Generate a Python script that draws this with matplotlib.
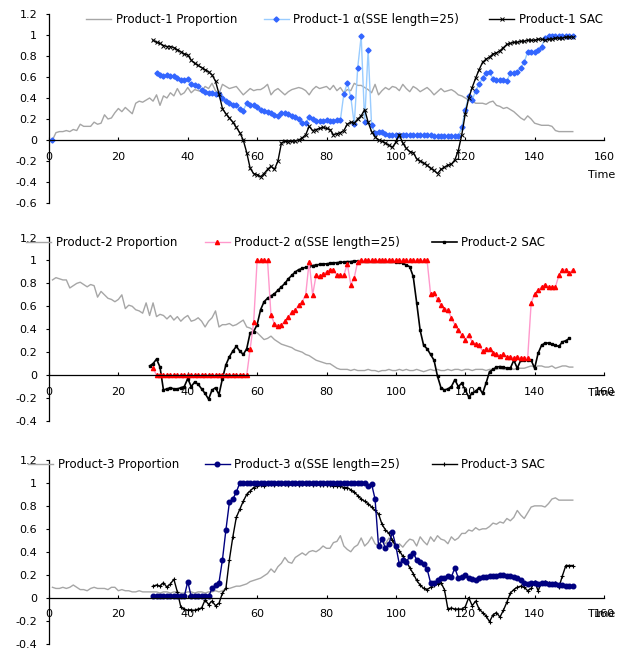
import numpy as np
import matplotlib
matplotlib.use('Agg')
import matplotlib.pyplot as plt
from matplotlib.legend import Legend
from matplotlib.ticker import FuncFormatter

plt.rcParams['font.family'] = ['DejaVu Sans']
plt.rcParams['font.size'] = 8
plt.rcParams['axes.unicode_minus'] = False

nan = np.nan

# ---------------- Product-1 ----------------
p1_prop_start = 1
p1_prop = [0.00, 0.07, 0.08, 0.08, 0.09, 0.08, 0.10, 0.09, 0.15, 0.13,
           0.13, 0.13, 0.17, 0.15, 0.16, 0.24, 0.20, 0.21, 0.26, 0.30,
           0.27, 0.31, 0.28, 0.25, 0.35, 0.37, 0.36, 0.38, 0.40, 0.37,
           0.43, 0.33, 0.42, 0.40, 0.45, 0.42, 0.49, 0.43, 0.45, 0.50,
           0.45, 0.48, 0.47, 0.46, 0.51, 0.49, 0.54, 0.47, 0.44, 0.53,
           0.51, 0.49, 0.50, 0.51, 0.47, 0.43, 0.46, 0.49, 0.47, 0.48,
           0.48, 0.50, 0.53, 0.43, 0.47, 0.49, 0.46, 0.43, 0.46, 0.48,
           0.49, 0.50, 0.49, 0.47, 0.43, 0.48, 0.51, 0.49, 0.50, 0.51,
           0.48, 0.52, 0.47, 0.50, 0.45, 0.48, 0.47, 0.54, 0.52, 0.52,
           0.50, 0.48, 0.45, 0.53, 0.43, 0.47, 0.50, 0.48, 0.51, 0.50,
           0.47, 0.53, 0.49, 0.46, 0.51, 0.49, 0.46, 0.48, 0.50, 0.47,
           0.43, 0.46, 0.49, 0.46, 0.47, 0.48, 0.46, 0.43, 0.42, 0.40,
           0.38, 0.37, 0.35, 0.35, 0.35, 0.34, 0.36, 0.37, 0.33, 0.32,
           0.30, 0.31, 0.29, 0.27, 0.24, 0.21, 0.19, 0.23, 0.20, 0.16,
           0.15, 0.14, 0.14, 0.14, 0.13, 0.09, 0.08, 0.08, 0.08, 0.08,
           0.08]

p1_alpha_start = 1
p1_alpha = [0.00] + [nan] * 29 + [
            0.64, 0.62, 0.61, 0.62, 0.61, 0.61, 0.59, 0.57, 0.57, 0.58,
            0.53, 0.52, 0.51, 0.48, 0.46, 0.45, 0.45, 0.44, 0.44, 0.40,
            0.37, 0.35, 0.33, 0.33, 0.30, 0.28, 0.35, 0.33, 0.33, 0.31,
            0.29, 0.28, 0.27, 0.26, 0.24, 0.23, 0.26, 0.26, 0.25, 0.23,
            0.22, 0.20, 0.16, 0.16, 0.22, 0.20, 0.18, 0.18, 0.18, 0.19,
            0.18, 0.18, 0.19, 0.19, 0.44, 0.54, 0.41, 0.15, 0.69, 0.99,
            0.17, 0.86, 0.14, 0.07, 0.08, 0.08, 0.06, 0.05, 0.05, 0.05,
            0.05, 0.05, 0.05, 0.05, 0.05, 0.05, 0.05, 0.05, 0.05, 0.05,
            0.04, 0.04, 0.04, 0.04, 0.04, 0.04, 0.04, 0.04, 0.12, 0.29,
            0.42, 0.38, 0.47, 0.53, 0.59, 0.64, 0.65, 0.58, 0.57, 0.57,
            0.57, 0.56, 0.64, 0.64, 0.65, 0.69, 0.74, 0.84, 0.84, 0.84,
            0.86, 0.89, 0.97, 0.99, 0.99, 0.99, 0.99, 0.99, 0.99, 0.99,
            0.99]

p1_sac_start = 30
p1_sac = [0.95, 0.93, 0.92, 0.90, 0.89, 0.89, 0.88, 0.86, 0.84, 0.82,
          0.81, 0.76, 0.73, 0.71, 0.69, 0.67, 0.65, 0.62, 0.56, 0.44,
          0.30, 0.25, 0.21, 0.17, 0.12, 0.07, 0.00, -0.12, -0.27, -0.32,
          -0.33, -0.35, -0.32, -0.28, -0.25, -0.28, -0.20, -0.03, -0.01, -0.02,
          -0.01, -0.01, 0.00, 0.02, 0.05, 0.13, 0.09, 0.10, 0.11, 0.12,
          0.11, 0.10, 0.05, 0.06, 0.07, 0.09, 0.15, 0.17, 0.16, 0.20,
          0.23, 0.29, 0.17, 0.08, 0.03, 0.00, -0.01, -0.03, -0.05, -0.07,
          -0.02, 0.05, -0.03, -0.08, -0.11, -0.12, -0.18, -0.20, -0.22, -0.24,
          -0.27, -0.29, -0.32, -0.28, -0.26, -0.24, -0.23, -0.19, -0.10, 0.05,
          0.25, 0.40, 0.50, 0.59, 0.67, 0.74, 0.77, 0.79, 0.82, 0.83,
          0.85, 0.88, 0.91, 0.92, 0.93, 0.93, 0.94, 0.94, 0.95, 0.95,
          0.95, 0.96, 0.96, 0.95, 0.96, 0.96, 0.97, 0.97, 0.97, 0.98,
          0.98, 0.98]

# ---------------- Product-2 ----------------
p2_prop_start = 1
p2_prop = [0.83, 0.85, 0.84, 0.83, 0.83, 0.76, 0.78, 0.80, 0.81, 0.79,
           0.77, 0.79, 0.78, 0.68, 0.73, 0.70, 0.67, 0.66, 0.64, 0.66,
           0.70, 0.58, 0.61, 0.60, 0.57, 0.56, 0.54, 0.63, 0.52, 0.63,
           0.51, 0.53, 0.52, 0.49, 0.52, 0.48, 0.51, 0.47, 0.50, 0.52,
           0.47, 0.48, 0.50, 0.47, 0.42, 0.47, 0.50, 0.56, 0.42, 0.44,
           0.44, 0.45, 0.43, 0.44, 0.46, 0.48, 0.42, 0.41, 0.39, 0.37,
           0.34, 0.31, 0.32, 0.34, 0.31, 0.29, 0.27, 0.26, 0.25, 0.24,
           0.22, 0.21, 0.20, 0.18, 0.17, 0.15, 0.13, 0.12, 0.11, 0.10,
           0.10, 0.08, 0.06, 0.05, 0.05, 0.05, 0.04, 0.05, 0.04, 0.04,
           0.04, 0.05, 0.04, 0.04, 0.03, 0.04, 0.04, 0.05, 0.04, 0.04,
           0.05, 0.04, 0.05, 0.04, 0.04, 0.05, 0.04, 0.03, 0.04, 0.05,
           0.04, 0.05, 0.04, 0.04, 0.05, 0.04, 0.05, 0.05, 0.04, 0.05,
           0.05, 0.04, 0.05, 0.05, 0.05, 0.04, 0.05, 0.05, 0.05, 0.06,
           0.05, 0.05, 0.06, 0.05, 0.06, 0.06, 0.06, 0.07, 0.08, 0.07,
           0.08, 0.08, 0.07, 0.07, 0.08, 0.06, 0.07, 0.08, 0.08, 0.07,
           0.07]

p2_alpha_start = 30
p2_alpha = [0.06] + [0.00] * 27 + [
            0.23, 0.46, 1.00,
            1.00, 1.00, 1.00, 0.52, 0.45, 0.43, 0.44, 0.47, 0.51, 0.55,
            0.57, 0.61, 0.64, 0.70, 0.99, 0.70, 0.87, 0.86, 0.88, 0.90,
            0.92, 0.92, 0.87, 0.87, 0.87, 0.97, 0.79, 0.85, 0.99, 1.00,
            1.00, 1.00, 1.00, 1.00, 1.00, 1.00, 1.00, 1.00, 1.00, 1.00,
            1.00, 1.00, 1.00, 1.00, 1.00, 1.00, 1.00, 1.00, 1.00, 0.71,
            0.72, 0.66, 0.61, 0.58, 0.57, 0.50, 0.44, 0.39, 0.35, 0.31,
            0.35, 0.29, 0.27, 0.26, 0.21, 0.23, 0.23, 0.19, 0.18, 0.17,
            0.18, 0.16, 0.16, 0.15, 0.16, 0.15, 0.15, 0.15, 0.63, 0.71,
            0.74, 0.77, 0.79, 0.77, 0.77, 0.77, 0.87, 0.92, 0.92, 0.89,
            0.92]

p2_sac_start = 29
p2_sac = [0.08, 0.10, 0.14, 0.07, -0.13, -0.12, -0.11, -0.12, -0.12, -0.11,
          -0.10, -0.03, -0.10, -0.06, -0.08, -0.12, -0.16, -0.21, -0.13, -0.11,
          -0.17, -0.03, 0.09, 0.16, 0.21, 0.25, 0.21, 0.18, 0.23, 0.37,
          0.38, 0.44, 0.57, 0.64, 0.67, 0.69, 0.71, 0.74, 0.77, 0.80,
          0.84, 0.87, 0.90, 0.92, 0.93, 0.94, 0.95, 0.955, 0.96, 0.965,
          0.97, 0.97, 0.975, 0.98, 0.98, 0.985, 0.985, 0.99, 0.99, 0.995,
          0.995, 0.995, 0.995, 0.995, 0.995, 0.995, 0.995, 0.995, 0.995, 0.995,
          0.995, 0.99, 0.985, 0.975, 0.96, 0.945, 0.86, 0.63, 0.39, 0.26,
          0.23, 0.18, 0.13, -0.01, -0.11, -0.13, -0.12, -0.10, -0.04, -0.10,
          -0.07, -0.13, -0.19, -0.16, -0.14, -0.11, -0.16, -0.07, 0.03, 0.05,
          0.07, 0.075, 0.07, 0.06, 0.06, 0.13, 0.06, 0.13, 0.13, 0.13,
          0.13, 0.06, 0.19, 0.26, 0.28, 0.28, 0.27, 0.26, 0.25, 0.29,
          0.30, 0.32]

# ---------------- Product-3 ----------------
p3_prop_start = 1
p3_prop = [0.09, 0.08, 0.08, 0.09, 0.08, 0.09, 0.11, 0.09, 0.07, 0.07,
           0.06, 0.08, 0.09, 0.08, 0.08, 0.08, 0.07, 0.09, 0.09, 0.06,
           0.07, 0.06, 0.06, 0.05, 0.05, 0.06, 0.05, 0.05, 0.05, 0.05,
           0.05, 0.04, 0.05, 0.05, 0.04, 0.05, 0.05, 0.04, 0.04, 0.05,
           0.05, 0.04, 0.05, 0.05, 0.04, 0.05, 0.05, 0.06, 0.05, 0.06,
           0.08, 0.08, 0.09, 0.10, 0.10, 0.11, 0.12, 0.14, 0.15, 0.16,
           0.17, 0.19, 0.21, 0.25, 0.22, 0.27, 0.30, 0.35, 0.31, 0.30,
           0.35, 0.37, 0.39, 0.37, 0.40, 0.41, 0.40, 0.42, 0.45, 0.43,
           0.43, 0.48, 0.49, 0.54, 0.45, 0.42, 0.40, 0.44, 0.46, 0.52,
           0.45, 0.48, 0.53, 0.47, 0.45, 0.50, 0.47, 0.52, 0.50, 0.42,
           0.47, 0.44, 0.48, 0.51, 0.50, 0.45, 0.53, 0.49, 0.46, 0.53,
           0.49, 0.54, 0.51, 0.50, 0.47, 0.53, 0.50, 0.52, 0.56, 0.56,
           0.59, 0.58, 0.61, 0.59, 0.60, 0.60, 0.62, 0.65, 0.64, 0.66,
           0.65, 0.69, 0.67, 0.70, 0.76, 0.72, 0.69, 0.74, 0.79, 0.80,
           0.80, 0.80, 0.79, 0.82, 0.86, 0.87, 0.85, 0.85, 0.85, 0.85,
           0.85]

p3_alpha_start = 30
p3_alpha = [0.01, 0.01, 0.01, 0.01, 0.01, 0.01, 0.01, 0.01, 0.01, 0.01,
            0.14, 0.01, 0.01, 0.01, 0.01, 0.01, 0.01, 0.08, 0.11, 0.13,
            0.33, 0.59, 0.83, 0.86, 0.92, 1.00, 1.00, 1.00, 1.00, 1.00,
            1.00, 1.00, 1.00, 1.00, 1.00, 1.00, 1.00, 1.00, 1.00, 1.00,
            1.00, 1.00, 1.00, 1.00, 1.00, 1.00, 1.00, 1.00, 1.00, 1.00,
            1.00, 1.00, 1.00, 1.00, 1.00, 1.00, 1.00, 1.00, 1.00, 1.00,
            1.00, 1.00, 0.97, 0.99, 0.86, 0.45, 0.51, 0.43, 0.47, 0.57,
            0.45, 0.29, 0.33, 0.31, 0.36, 0.39, 0.33, 0.31, 0.29, 0.25,
            0.13, 0.13, 0.15, 0.17, 0.17, 0.19, 0.18, 0.26, 0.17, 0.18,
            0.20, 0.17, 0.16, 0.15, 0.17, 0.18, 0.18, 0.19, 0.19, 0.19,
            0.20, 0.20, 0.19, 0.19, 0.18, 0.17, 0.15, 0.13, 0.12, 0.13,
            0.13, 0.12, 0.13, 0.13, 0.12, 0.12, 0.12, 0.11, 0.11, 0.10,
            0.10, 0.10]

p3_sac_start = 30
p3_sac = [0.10, 0.11, 0.10, 0.13, 0.09, 0.12, 0.16, 0.05, -0.08, -0.10,
          -0.11, -0.11, -0.11, -0.10, -0.09, -0.02, -0.06, -0.03, -0.07, -0.05,
          0.04, 0.08, 0.33, 0.53, 0.70, 0.77, 0.84, 0.90, 0.93, 0.96,
          0.97, 0.98, 0.97, 0.99, 0.99, 0.98, 0.99, 0.99, 0.99, 0.98,
          0.99, 0.99, 0.98, 0.99, 0.99, 0.99, 0.98, 0.99, 0.98, 0.98,
          0.98, 0.98, 0.97, 0.97, 0.97, 0.96, 0.96, 0.94, 0.92, 0.89,
          0.86, 0.84, 0.82, 0.79, 0.76, 0.73, 0.64, 0.59, 0.56, 0.50,
          0.45, 0.41, 0.36, 0.32, 0.26, 0.21, 0.15, 0.11, 0.08, 0.07,
          0.09, 0.11, 0.12, 0.13, 0.07, -0.10, -0.09, -0.10, -0.10, -0.10,
          -0.08, 0.00, -0.07, -0.03, -0.10, -0.13, -0.16, -0.21, -0.15, -0.13,
          -0.17, -0.11, -0.04, 0.04, 0.07, 0.09, 0.10, 0.09, 0.06, 0.08,
          0.14, 0.06, 0.13, 0.14, 0.13, 0.12, 0.13, 0.09, 0.19, 0.28,
          0.28, 0.28]

x_ticks = [0, 20, 40, 60, 80, 100, 120, 140, 160]


def tt(start, vals):
    return np.arange(start, start + len(vals))


fig = plt.figure(figsize=(6.23, 6.52), dpi=100)
FW, FH = 623.0, 652.0
L = 49 / FW
W = 555 / FW
rects = [(L, (FH - 203) / FH, W, 189 / FH),
         (L, (FH - 421) / FH, W, 183.5 / FH),
         (L, (FH - 643.5) / FH, W, 183.5 / FH)]
ylims = [(-0.6, 1.2), (-0.4, 1.2), (-0.4, 1.2)]
time_y = [-0.333, -0.153, -0.146]

GRAY = '#a6a6a6'

panels = [
    dict(prop=(p1_prop_start, p1_prop, 'Product-1 Proportion'),
         alpha=(p1_alpha_start, p1_alpha, 'Product-1 \u03b1(SSE length=25)',
                dict(color='#99ccff', lw=1.0, marker='D', ms=2.6, mfc='#3366ff', mec='#3366ff')),
         sac=(p1_sac_start, p1_sac, 'Product-1 SAC',
              dict(color='black', lw=1.0, marker='x', ms=3, mew=0.7)),
         order=['prop', 'alpha', 'sac'],
         leg=[(0.0667, 0.971), (0.387, 0.971), (0.793, 0.971)]),
    dict(prop=(p2_prop_start, p2_prop, 'Product-2 Proportion'),
         alpha=(p2_alpha_start, p2_alpha, 'Product-2 \u03b1(SSE length=25)',
                dict(color='#ff99cc', lw=1.0, marker='^', ms=3, mfc='#ff0000', mec='#ff0000')),
         sac=(p2_sac_start, p2_sac, 'Product-2 SAC',
              dict(color='black', lw=1.2, marker='s', ms=2, mfc='black', mec='black')),
         order=['prop', 'sac', 'alpha'],
         leg=[(-0.0414, 0.974), (0.281, 0.974), (0.690, 0.974)]),
    dict(prop=(p3_prop_start, p3_prop, 'Product-3 Proportion'),
         alpha=(p3_alpha_start, p3_alpha, 'Product-3 \u03b1(SSE length=25)',
                dict(color='#000080', lw=1.0, marker='o', ms=3.3, mfc='#000080', mec='#000080')),
         sac=(p3_sac_start, p3_sac, 'Product-3 SAC',
              dict(color='black', lw=1.0, marker='+', ms=3.5, mew=0.8)),
         order=['prop', 'sac', 'alpha'],
         leg=[(-0.0378, 0.977), (0.281, 0.977), (0.690, 0.977)]),
]

fmt = FuncFormatter(lambda v, p: f'{round(v, 1) + 0:g}')

for i, pan in enumerate(panels):
    ax = fig.add_axes(rects[i])
    ylo, yhi = ylims[i]
    handles = {}
    for key in pan['order']:
        if key == 'prop':
            s, v, lab = pan['prop']
            h, = ax.plot(tt(s, v), v, color=GRAY, lw=1.0)
        else:
            s, v, lab, st = pan[key]
            h, = ax.plot(tt(s, v), v, **st)
        handles[key] = (h, lab)
    ax.set_xlim(0, 160)
    ax.set_ylim(ylo, yhi)
    for sp in ['top', 'right']:
        ax.spines[sp].set_visible(False)
    ax.spines['bottom'].set_position(('data', 0))
    ax.spines['left'].set_bounds(ylo, yhi)
    for sp in ['left', 'bottom']:
        ax.spines[sp].set_linewidth(0.9)
    ax.set_xticks(x_ticks)
    ax.set_yticks(np.round(np.arange(ylo, yhi + 0.001, 0.2), 1))
    ax.yaxis.set_major_formatter(fmt)
    ax.tick_params(axis='x', direction='in', length=2.5, pad=8.5, width=0.8)
    ax.tick_params(axis='y', direction='out', length=2.5, pad=6, width=0.8)
    ax.patch.set_alpha(0)
    ax.text(159.4, time_y[i], 'Time', ha='center', va='center', fontsize=8)
    for key, (xf, yf) in zip(['prop', 'alpha', 'sac'], pan['leg']):
        h, lab = handles[key]
        lg = Legend(ax, [h], [lab], loc='center left', bbox_to_anchor=(xf, yf),
                    frameon=False, borderpad=0, borderaxespad=0, handlelength=2.1,
                    handletextpad=0.4, numpoints=1, fontsize=8.5)
        ax.add_artist(lg)

fig.savefig('out.png', dpi=100)
